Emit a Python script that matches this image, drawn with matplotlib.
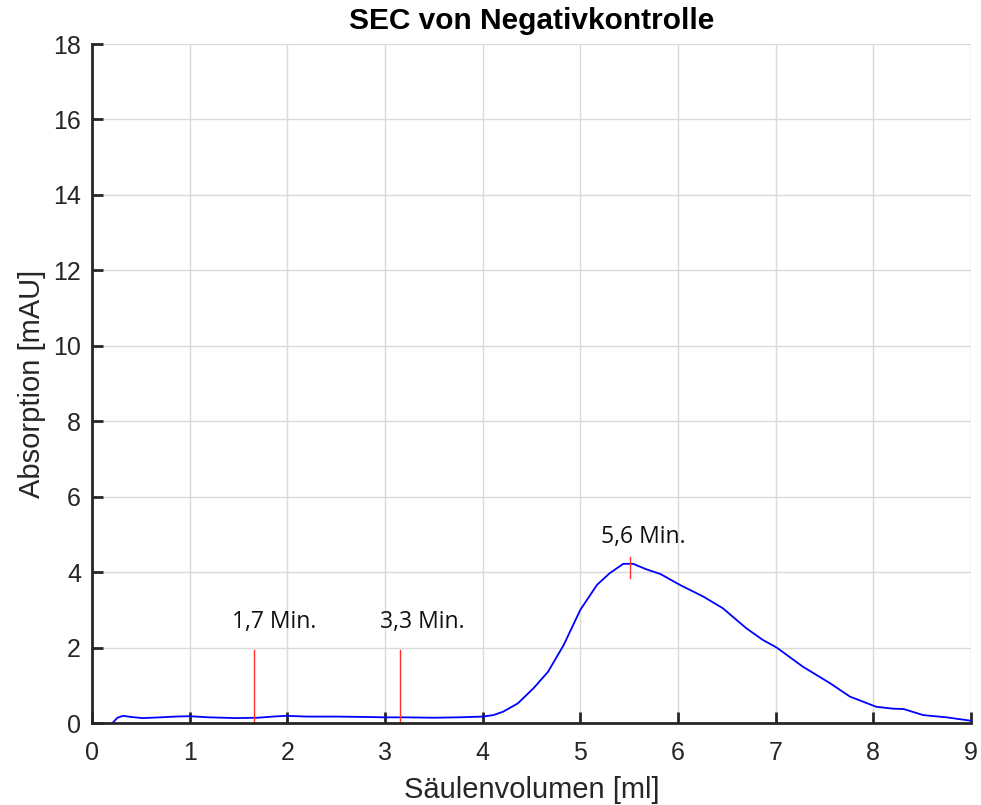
import matplotlib
matplotlib.use("Agg")
import matplotlib.pyplot as plt

# curve data (Säulenvolumen [ml], Absorption [mAU])
volume = [0.21, 0.26, 0.32, 0.40, 0.52, 0.70, 0.85, 1.00, 1.20, 1.48, 1.70, 1.85, 1.99, 2.20, 2.50,
          2.80, 3.00, 3.20, 3.50, 3.75, 3.87, 4.00, 4.11, 4.21, 4.36, 4.52, 4.67, 4.83, 5.00,
          5.17, 5.30, 5.44, 5.54, 5.68, 5.82, 6.02, 6.26, 6.46, 6.70, 6.87, 7.01, 7.28,
          7.56, 7.76, 8.03, 8.20, 8.31, 8.51, 8.75, 9.00]
absorption = [0.00, 0.14, 0.19, 0.16, 0.13, 0.15, 0.17, 0.18, 0.15, 0.13, 0.14, 0.17, 0.19, 0.17, 0.17,
              0.16, 0.15, 0.15, 0.14, 0.15, 0.16, 0.17, 0.21, 0.30, 0.52, 0.92, 1.36, 2.07, 3.00,
              3.66, 3.97, 4.22, 4.22, 4.07, 3.95, 3.66, 3.35, 3.04, 2.51, 2.20, 2.00, 1.49,
              1.05, 0.70, 0.43, 0.38, 0.37, 0.21, 0.15, 0.06]

# markers
marker_x = [1.66, 3.15, 5.51]
marker_y0 = [0.0, 0.0, 3.84]
marker_y1 = [1.93, 1.93, 4.40]
label_x = [1.86, 3.38, 5.64]
label_y = [2.68, 2.68, 4.93]
labels = ["1,7 Min.", "3,3 Min.", "5,6 Min."]

xticks = list(range(0, 10))
yticks = list(range(0, 20, 2))

fig = plt.figure(figsize=(9.81, 8.05), dpi=100)
ax = fig.add_axes([92/981, 82/805, (971-92)/981, (723-44)/805])

ax.plot(volume, absorption, color="#0000ff", lw=1.3)
for x, y0, y1 in zip(marker_x, marker_y0, marker_y1):
    ax.plot([x, x], [y0, y1], color="#ff3030", lw=1.0)
for x, y, t in zip(label_x, label_y, labels):
    ax.text(x, y, t, ha="center", va="center", fontsize=16.5, family="Open Sans", color="#111111")

ax.set_xlim(0, 9)
ax.set_ylim(0, 18)
ax.set_xticks(xticks)
ax.set_yticks(yticks)
ax.grid(True, color="#dadada", lw=1.0)
ax.set_axisbelow(True)
for s in ["top", "right"]:
    ax.spines[s].set_visible(False)
for s in ["left", "bottom"]:
    ax.spines[s].set_color("#262626")
    ax.spines[s].set_linewidth(2.0)
ax.tick_params(direction="in", length=8, width=2.0, color="#262626",
               labelsize=18, labelcolor="#262626")
ax.tick_params(axis="x", pad=13)
ax.tick_params(axis="y", pad=8)
for lbl in ax.get_xticklabels() + ax.get_yticklabels():
    lbl.set_family("Liberation Sans")

ax.set_xlabel("Säulenvolumen [ml]", fontsize=21, family="Liberation Sans", color="#262626")
ax.set_ylabel("Absorption [mAU]", fontsize=21, family="Liberation Sans", color="#262626")
ax.xaxis.set_label_coords(0.5, (723-790)/679)
ax.yaxis.set_label_coords((32-92)/879, 0.5)
ax.xaxis.label.set_va("center")
ax.yaxis.label.set_va("center")
ax.text(0.5, (723-21)/679, "SEC von Negativkontrolle", transform=ax.transAxes,
        ha="center", va="center", fontsize=21.5, family="Liberation Sans", weight="bold", color="black")

fig.savefig("out.png", dpi=100)
